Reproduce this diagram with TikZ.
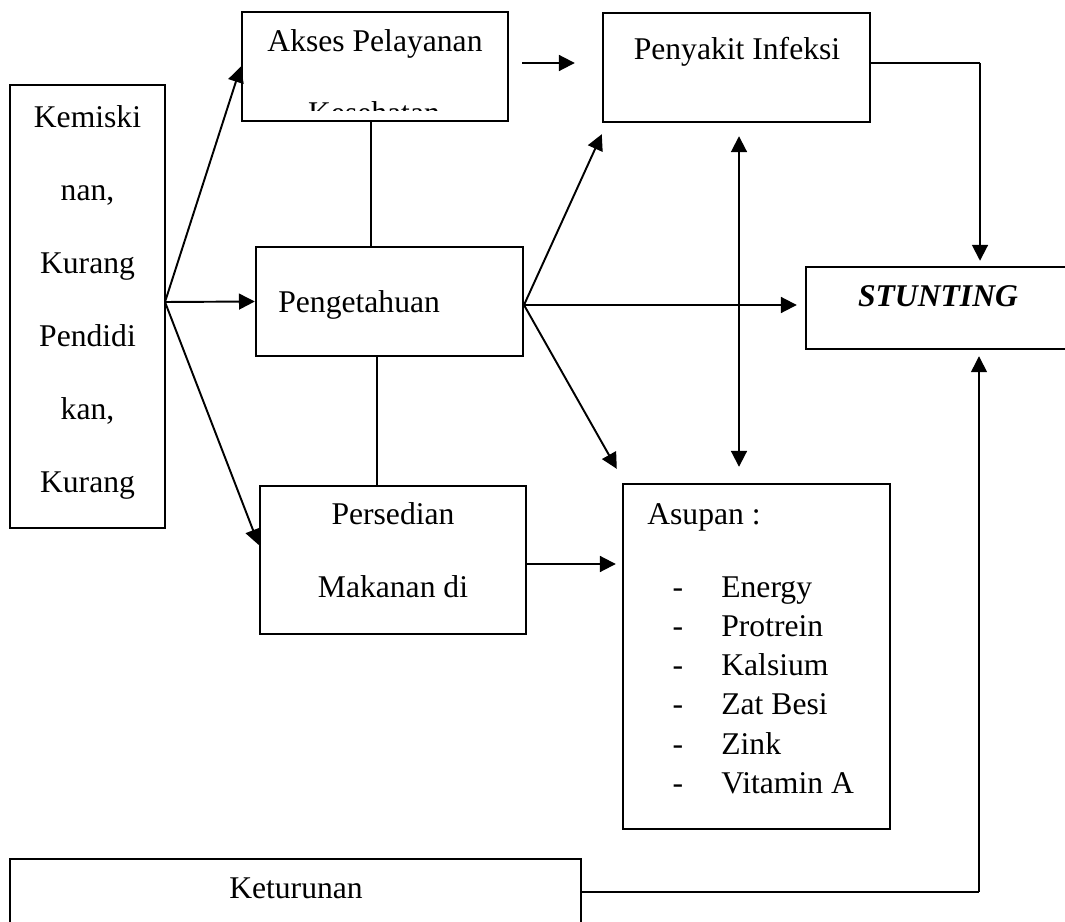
\documentclass[tikz,border=0pt]{standalone}
\usepackage{fontspec}
\setmainfont{Liberation Serif}
\usetikzlibrary{
	arrows.meta,
	positioning,
	calc
}
\tikzset{
	>={Triangle[length=9pt,width=9pt]},
	box/.style={draw, line width=1.4pt, inner sep=0pt},
	txt/.style={inner sep=0pt, font=\fontsize{18}{41.5}\selectfont},
	arr/.style={line width=1.1pt, ->},
	link/.style={line width=0.6pt}
}

\begin{document}
\begin{tikzpicture}[x=0.02cm, y=-0.02cm]
		\useasboundingbox (0,0) rectangle (1065,922);
		\node[box, minimum width=3.10cm, minimum height=8.86cm] (kemis) at (87.5,306.5) {};
		\node[box, minimum width=5.32cm, minimum height=2.18cm] (akses) at (375,66.5) {};
		\node[box, minimum width=5.34cm, minimum height=2.18cm] (infek) at (736.5,67.5) {};
		\node[box, minimum width=5.34cm, minimum height=2.18cm] (penget) at (389.5,301.5) {};
		\node[box, minimum width=5.32cm, minimum height=2.96cm] (persed) at (393,560) {};
		\node[box, minimum width=5.34cm, minimum height=6.90cm] (asupan) at (756.5,656.5) {};
		\node[box, minimum width=5.48cm, minimum height=1.64cm] (stunt) at (943,308) {};
		\node[box, minimum width=11.42cm, minimum height=2.22cm] (ketur) at (295.5,914.5) {};
		\node[txt, align=center, anchor=base] (kemistxt) at (87.5,492) {Kemiski\\nan,\\Kurang\\Pendidi\\kan,\\Kurang};
		\node[txt, anchor=base] (aksestxt) at (375,52) {Akses Pelayanan};
		\begin{scope}
			\clip (akses.north west) rectangle ([yshift=0.23cm]akses.south east);
			\node[txt, anchor=base] (kestxt) at (374,124) {Kesehatan};
		\end{scope}
		\node[txt, anchor=base] (infektxt) at (737,60) {Penyakit Infeksi};
		\node[txt, anchor=base, font=\fontsize{18}{22}\selectfont\bfseries\itshape] (stunttxt) at (938,306) {STUNTING};
		\node[txt, anchor=base west] (pengettxt) at (278,313) {Pengetahuan};
		\node[txt, align=center, anchor=base] (persedtxt) at (393,597) {Persedian\\Makanan di};
		\node[txt, anchor=base west] (asupantxt) at (647,524) {Asupan :};
		\node[txt, align=center, anchor=base, font=\fontsize{18}{22.2}\selectfont] (dashtxt) at (678,793) {-\\-\\-\\-\\-\\-};
		\node[txt, align=left, anchor=base west, font=\fontsize{18}{22.2}\selectfont] (itemtxt) at (721,793) {Energy\\Protrein\\Kalsium\\Zat Besi\\Zink\\Vitamin A};
		\node[txt, anchor=base] (keturtxt) at (296,898) {Keturunan};
		\coordinate (kout) at (165,302);
		\coordinate (pout) at (524,305);
		\coordinate (iknee) at (980,63);
		\coordinate (kknee) at (979,892);
		\draw[arr] (kout) -- (akses.west);
		\draw[arr] (kout) -- (penget.west);
		\draw[arr] (kout) -- ([yshift=0.3cm]persed.west);
		\draw[arr, shorten <=0.26cm, shorten >=0.54cm] ([yshift=0.07cm]akses.east) -- ([yshift=0.07cm]akses.east -| infek.west);
		\draw[arr] (pout) -- ([yshift=-0.22cm]infek.south west);
		\draw[arr, shorten >=0.16cm] (pout) -- (pout -| stunt.west);
		\draw[arr] (pout) -- ([xshift=-0.1cm, yshift=0.28cm]asupan.north west);
		\draw[arr, shorten >=0.12cm] ([yshift=-0.08cm]persed.east) -- ([yshift=-0.08cm]persed.east -| asupan.west);
		\draw[arr, <->, shorten <=0.26cm, shorten >=0.32cm] ([xshift=0.05cm]infek.south) -- ([xshift=0.05cm]infek.south |- asupan.north);
		\draw[link] (infek.east |- iknee) -- (iknee);
		\draw[arr, shorten >=0.1cm] (iknee) -- (iknee |- stunt.north);
		\draw[link] ([xshift=-0.08cm]akses.south) -- ([xshift=-0.08cm]akses.south |- penget.north);
		\draw[link] ([xshift=-0.25cm]penget.south) -- ([xshift=-0.25cm]penget.south |- persed.north);
		\draw[link, line width=0.8pt] (ketur.east |- kknee) -- (kknee);
		\draw[arr, line width=0.8pt, shorten >=0.12cm] (kknee) -- (kknee |- stunt.south);
	\end{tikzpicture}
\end{document}
